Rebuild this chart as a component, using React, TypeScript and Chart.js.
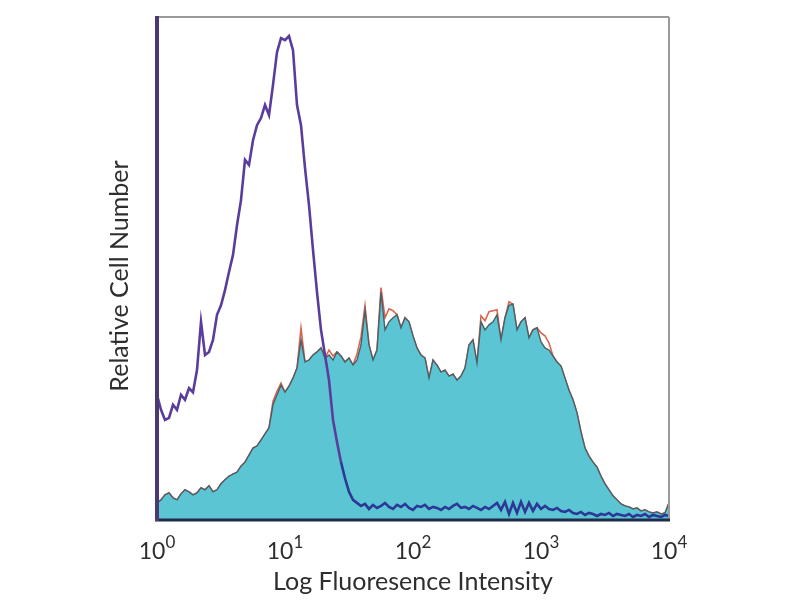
import React, { useEffect, useRef } from "react";
import { Chart, registerables } from "chart.js";

Chart.register(...registerables);

// Histogram channels spread over 4 log decades (10^0 .. 10^4), 32 channels per decade
const decadeChannels = [0, 32, 64, 96, 128];
const decadeExponents = ["0", "1", "2", "3", "4"];

const xTitle = "Log Fluoresence Intensity";
const yTitle = "Relative Cell Number";

// Unstained / control histogram (purple line)
const controlCounts = [
  24.9, 21.9, 19.9, 20.3, 22.9, 21.9, 24.9, 23.9, 26.2, 25.4,
  29.8, 39.4, 32.8, 33.4, 35.8, 40.8, 42.7, 45.7, 49.3, 52.7,
  58.6, 63.6, 71.6, 70.6, 75.5, 78.5, 79.9, 82.5, 80.5, 86.5,
  93.0, 95.8, 95.4, 96.2, 93.4, 82.5, 78.5, 70.0, 62.6, 53.7,
  45.3, 37.8, 32.8, 27.8, 19.9, 15.5, 11.5, 8.3, 5.6, 4.0,
  3.4, 2.8, 3.2, 2.2, 3.0, 2.4, 2.8, 3.4, 2.6, 2.2,
  3.0, 2.6, 3.2, 2.4, 2.0, 2.8, 2.6, 3.0, 2.2, 2.6,
  2.4, 2.0, 2.6, 2.2, 2.8, 3.2, 2.4, 2.6, 2.2, 2.8,
  2.4, 2.0, 2.6, 2.2, 2.8, 3.4, 2.0, 3.6, 1.2, 3.4,
  1.4, 3.6, 1.6, 3.4, 1.8, 3.2, 2.2, 2.8, 2.2, 2.0,
  2.4, 1.8, 1.6, 2.0, 1.4, 1.2, 1.6, 1.0, 1.4, 1.2,
  0.8, 1.2, 1.0, 1.4, 0.8, 1.2, 1.0, 0.8, 1.2, 0.6,
  1.0, 0.8, 1.2, 0.6, 1.0, 0.8, 0.6, 1.0, 0.8,
];

// Stained histogram (cyan filled)
const stainedCounts = [
  3.4, 4.0, 5.0, 5.4, 4.4, 4.0, 5.2, 6.0, 5.6, 5.0,
  5.4, 6.4, 6.0, 6.8, 5.6, 6.0, 7.2, 8.0, 8.7, 9.1,
  9.5, 10.7, 11.5, 12.9, 14.3, 14.7, 15.9, 17.1, 18.3, 22.9,
  24.9, 26.8, 25.4, 26.6, 28.2, 30.2, 35.8, 31.4, 31.8, 32.8,
  33.4, 34.2, 32.2, 32.8, 31.8, 33.4, 32.6, 31.4, 32.2, 30.8,
  31.8, 34.8, 41.7, 34.8, 31.8, 33.8, 45.3, 37.8, 39.4, 40.2,
  40.8, 38.2, 40.2, 39.4, 36.6, 34.2, 32.8, 32.2, 28.2, 31.8,
  30.8, 29.4, 29.8, 28.6, 29.0, 27.8, 28.6, 30.2, 34.8, 35.8,
  31.2, 39.4, 37.8, 38.8, 39.4, 40.8, 35.8, 40.2, 42.7, 42.9,
  37.8, 39.4, 40.2, 36.2, 37.8, 38.2, 35.4, 34.2, 33.8, 32.6,
  31.4, 30.6, 28.2, 25.8, 23.9, 21.3, 17.5, 14.3, 12.7, 11.5,
  10.5, 8.7, 7.2, 6.0, 4.8, 4.0, 3.2, 2.8, 2.6, 2.2,
  2.4, 1.8, 2.0, 1.6, 1.4, 1.6, 1.2, 1.4, 3.4,
];

// Second stained overlay (red outline, only shows where it rises above the cyan one)
const overlayCounts = [
  3.4, 4.0, 5.0, 5.4, 4.4, 4.0, 5.2, 6.0, 5.6, 5.0,
  5.4, 6.4, 6.0, 6.8, 5.6, 6.0, 7.2, 8.0, 8.7, 9.1,
  9.5, 10.7, 11.5, 12.9, 14.3, 14.7, 15.9, 17.1, 18.3, 23.6,
  25.6, 27.2, 25.4, 26.6, 28.2, 30.2, 38.2, 31.4, 31.8, 32.8,
  33.4, 34.2, 32.2, 33.8, 32.6, 33.4, 32.6, 31.4, 32.2, 30.8,
  33.0, 36.4, 42.6, 34.8, 31.8, 33.8, 46.2, 40.2, 42.0, 41.6,
  40.8, 38.2, 40.2, 39.4, 36.6, 34.2, 32.8, 32.2, 28.2, 31.8,
  30.8, 29.4, 29.8, 28.6, 29.0, 27.8, 28.6, 30.2, 34.8, 35.8,
  31.2, 40.6, 39.6, 41.4, 41.6, 41.8, 35.8, 40.2, 43.4, 42.9,
  37.8, 39.4, 40.2, 36.2, 37.8, 38.2, 37.2, 36.6, 35.2, 32.6,
  31.4, 30.6, 28.2, 25.8, 23.9, 21.3, 17.5, 14.3, 12.7, 11.5,
  10.5, 8.7, 7.2, 6.0, 4.8, 4.0, 3.2, 2.8, 2.6, 2.2,
  2.4, 1.8, 2.0, 1.6, 1.4, 1.6, 1.2, 1.4, 3.4,
];

const FONT = "Lato, 'Open Sans', sans-serif";
const TEXT_COLOR = "#2e2e2e";

const framePlugin = {
  id: "frameAndText",
  afterDatasetsDraw(chart: any) {
    const { ctx, chartArea } = chart;
    const { left, right, top, bottom } = chartArea;
    ctx.save();
    ctx.strokeStyle = "#9a9a9a";
    ctx.lineWidth = 2;
    ctx.beginPath();
    ctx.moveTo(left, top);
    ctx.lineTo(right, top);
    ctx.stroke();
    ctx.beginPath();
    ctx.moveTo(right, top);
    ctx.lineTo(right, bottom);
    ctx.stroke();
    ctx.strokeStyle = "#1f2c4c";
    ctx.lineWidth = 3;
    ctx.beginPath();
    ctx.moveTo(left - 2, bottom);
    ctx.lineTo(right + 1, bottom);
    ctx.stroke();
    ctx.strokeStyle = "#4b3a72";
    ctx.lineWidth = 4;
    ctx.beginPath();
    ctx.moveTo(left, top - 1);
    ctx.lineTo(left, bottom + 1);
    ctx.stroke();
    ctx.restore();
  },
  afterDraw(chart: any) {
    const { ctx, chartArea } = chart;
    const xs = chart.scales.x;
    ctx.save();
    ctx.fillStyle = TEXT_COLOR;
    ctx.textBaseline = "alphabetic";
    ctx.textAlign = "left";
    decadeChannels.forEach((ch, i) => {
      const px = xs.getPixelForValue(ch);
      ctx.font = `23px ${FONT}`;
      const wBase = ctx.measureText("10").width;
      ctx.font = `17px ${FONT}`;
      const wExp = ctx.measureText(decadeExponents[i]).width;
      const start = px - (wBase + wExp) / 2;
      ctx.font = `23px ${FONT}`;
      ctx.fillText("10", start, 559);
      ctx.font = `17px ${FONT}`;
      ctx.fillText(decadeExponents[i], start + wBase, 548);
    });
    ctx.font = `25px ${FONT}`;
    ctx.textAlign = "center";
    ctx.fillText(xTitle, (chartArea.left + chartArea.right) / 2, 590);
    ctx.translate(128, 276);
    ctx.rotate(-Math.PI / 2);
    ctx.fillText(yTitle, 0, 0);
    ctx.restore();
  },
};

export default function App() {
  const canvasRef = useRef<HTMLCanvasElement | null>(null);

  useEffect(() => {
    if (!canvasRef.current) return;
    const labels = controlCounts.map((_, i) => i);
    const chart = new Chart(canvasRef.current, {
      type: "line",
      data: {
        labels,
        datasets: [
          {
            label: "Control",
            data: controlCounts,
            borderColor: "#5a3c9c",
            borderWidth: 2.6,
            pointRadius: 0,
            fill: false,
            order: 1,
            segment: {
              borderColor: (c: any) => (c.p0DataIndex >= 46 ? "#2b3896" : "#5a3c9c"),
            },
          },
          {
            label: "Stained",
            data: stainedCounts,
            borderColor: "#4e5d66",
            borderWidth: 1.4,
            backgroundColor: "#5cc5d3",
            pointRadius: 0,
            fill: "origin",
            order: 2,
          },
          {
            label: "Overlay",
            data: overlayCounts,
            borderColor: "#d9654f",
            borderWidth: 1.6,
            pointRadius: 0,
            fill: false,
            order: 3,
          },
        ],
      },
      options: {
        animation: false,
        responsive: false,
        maintainAspectRatio: false,
        layout: { padding: { left: 157, right: 131, top: 17, bottom: 80 } },
        plugins: {
          legend: { display: false },
          tooltip: { enabled: false },
        },
        scales: {
          x: { type: "category", display: false, offset: false },
          y: { type: "linear", display: false, min: 0, max: 100 },
        },
      },
      plugins: [framePlugin],
    });
    return () => chart.destroy();
  }, []);

  return (
    <div style={{ position: "fixed", left: 0, top: 0, width: 800, height: 600, background: "#fff" }}>
      <canvas ref={canvasRef} width={800} height={600} />
    </div>
  );
}
